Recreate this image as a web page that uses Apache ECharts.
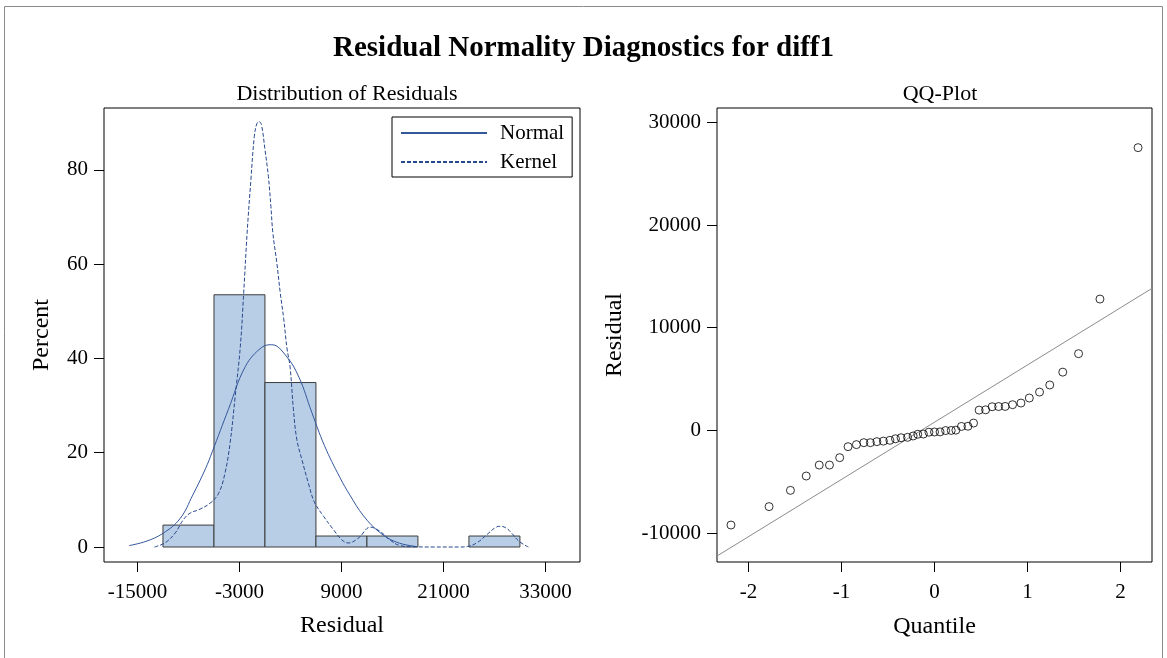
<!DOCTYPE html>
<html>
<head>
<meta charset="utf-8">
<script src="https://cdn.jsdelivr.net/npm/echarts@6/dist/echarts.min.js"></script>
<style>
  html, body { margin: 0; padding: 0; background: #fff; }
  #main { width: 1167px; height: 658px; }
</style>
</head>
<body>
<div id="main"></div>
<script>
// Histogram of residuals: bin starts, common width, percent of observations
const binStarts = [-12000, -6000, 0, 6000, 12000, 18000, 24000];
const binWidth = 6000;
const binPercent = [4.65, 53.49, 34.88, 2.33, 2.33, 0, 2.33];

// Fitted normal density (percent scale), sampled along the residual axis
const normalCurve = [
  [-16000, 0.3], [-14000, 1.2], [-12000, 2.9], [-10000, 6.0], [-8500, 11.0],
  [-7000, 16.6], [-6200, 20.2], [-4300, 29.2], [-2300, 38.3], [-400, 42.3],
  [800, 42.9], [2500, 40.5], [4000, 36.0], [5500, 28.6], [7000, 21.5],
  [8800, 14.8], [10000, 11.0], [11600, 6.6], [13500, 3.1], [15500, 1.0],
  [17800, 0.1]
];

// Kernel density estimate (percent scale)
const kernelCurve = [
  [-13000, 0], [-11750, 0.9], [-10550, 3.0], [-9600, 5.8], [-8800, 7.2],
  [-7800, 7.9], [-6450, 9.3], [-5450, 11.4], [-4700, 15.7], [-4100, 22.1],
  [-3500, 32.0], [-2900, 42.5], [-2500, 54.0], [-2100, 66.6], [-1650, 78.0],
  [-1250, 87.1], [-950, 89.8], [-690, 90.2], [-420, 89.6], [0, 84.3],
  [400, 78.6], [700, 72.2], [930, 66.6], [1400, 60.2], [1800, 53.9],
  [2200, 48.5], [2600, 42.0], [2950, 38.3], [3350, 29.1], [3750, 22.8],
  [4350, 18.5], [5100, 13.6], [5800, 9.6], [6900, 6.5], [8050, 3.7],
  [9050, 1.5], [9800, 0.85], [11000, 1.9], [12400, 4.2], [13550, 3.3],
  [14700, 1.5], [15900, 0.3], [17500, 0.05], [20000, 0], [23000, 0],
  [23800, 0.1], [24900, 0.85], [26100, 2.6], [27100, 4.1], [27700, 4.4],
  [28400, 4.0], [29000, 3.0], [29900, 1.2], [31000, 0]
];

// QQ plot: normal quantiles and sorted residuals
const qqQuantiles = [
  -2.19, -1.78, -1.55, -1.38, -1.24, -1.13, -1.02, -0.93, -0.84, -0.76,
  -0.69, -0.62, -0.55, -0.48, -0.42, -0.36, -0.29, -0.23, -0.18, -0.12,
  -0.06, 0.00, 0.06, 0.12, 0.18, 0.23, 0.29, 0.36, 0.42, 0.48,
  0.55, 0.62, 0.69, 0.76, 0.84, 0.93, 1.02, 1.13, 1.24, 1.38,
  1.55, 1.78, 2.19
];
const qqResiduals = [
  -9225, -7430, -5845, -4450, -3380, -3380, -2660, -1590, -1390, -1200,
  -1200, -1100, -1050, -970, -820, -720, -680, -550, -380, -360,
  -180, -160, -150, -20, -10, 20, 380, 400, 710, 1970,
  2000, 2300, 2320, 2330, 2500, 2660, 3150, 3730, 4420, 5670,
  7470, 12790, 27540
];
// Reference line end points across the quantile axis
const qqLine = [[-2.34, -12245], [2.34, 13833]];

// Tick positions
const residualTicks = [-15000, -3000, 9000, 21000, 33000];
const percentTicks = [0, 20, 40, 60, 80];
const qqResidualTicks = [-10000, 0, 10000, 20000, 30000];
const quantileTicks = [-2, -1, 0, 1, 2];

const FONT = "'Liberation Serif', 'Times New Roman', serif";
const BLUE = '#27498C';

const chart = echarts.init(document.getElementById('main'), null, { renderer: 'canvas' });

function axisCommon(ticks, labelMargin) {
  return {
    axisLine: { show: false, onZero: false },
    axisTick: { show: true, inside: false, length: 10, customValues: ticks,
                lineStyle: { color: '#000', width: 1 } },
    axisLabel: { show: true, customValues: ticks, color: '#000', margin: labelMargin,
                 fontFamily: FONT, fontSize: 21, formatter: v => String(v) },
    splitLine: { show: false },
    nameTextStyle: { color: '#000', fontFamily: FONT, fontSize: 24 }
  };
}

const option = {
  animation: false,
  backgroundColor: '#fff',
  title: [
    { text: 'Residual Normality Diagnostics for diff1', left: 'center', top: 29,
      textStyle: { fontFamily: FONT, fontSize: 29, fontWeight: 'bold', color: '#000' } },
    { text: 'Distribution of Residuals', left: 342, top: 78, textAlign: 'center',
      textStyle: { fontFamily: FONT, fontSize: 22, fontWeight: 'normal', color: '#000' } },
    { text: 'QQ-Plot', left: 935, top: 78, textAlign: 'center',
      textStyle: { fontFamily: FONT, fontSize: 22, fontWeight: 'normal', color: '#000' } }
  ],
  legend: {
    show: true,
    data: ['Normal', 'Kernel'],
    orient: 'vertical',
    left: 392, top: 117,
    padding: [5, 8, 4, 8],
    icon: 'inherit',
    itemWidth: 86, itemHeight: 14, itemGap: 7,
    itemStyle: { opacity: 0 },
    borderColor: '#000', borderWidth: 1,
    backgroundColor: '#fff',
    selectedMode: false,
    textStyle: { fontFamily: FONT, fontSize: 21, color: '#000', lineHeight: 22, padding: [0, 0, 0, 8] }
  },
  graphic: [
    { type: 'rect', silent: true, z: -1,
      shape: { x: 4.5, y: 6.5, width: 1158, height: 660 },
      style: { fill: 'none', stroke: '#8a8a8a', lineWidth: 1 } }
  ],
  grid: [
    { left: 104, top: 108, width: 476, height: 454, show: true,
      borderColor: '#000', borderWidth: 1, backgroundColor: 'transparent' },
    { left: 717, top: 108, width: 435, height: 454, show: true,
      borderColor: '#000', borderWidth: 1, backgroundColor: 'transparent' }
  ],
  xAxis: [
    Object.assign(axisCommon(residualTicks, 20), {
      type: 'value', gridIndex: 0, min: -18940, max: 37070,
      name: 'Residual', nameLocation: 'middle', nameGap: 52
    }),
    Object.assign(axisCommon(quantileTicks, 20), {
      type: 'value', gridIndex: 1, min: -2.34, max: 2.34,
      name: 'Quantile', nameLocation: 'middle', nameGap: 53
    })
  ],
  yAxis: [
    Object.assign(axisCommon(percentTicks, 16), {
      type: 'value', gridIndex: 0, min: -3.18, max: 93.1,
      name: 'Percent', nameLocation: 'middle', nameGap: 50
    }),
    Object.assign(axisCommon(qqResidualTicks, 16), {
      type: 'value', gridIndex: 1, min: -12825, max: 31403,
      name: 'Residual', nameLocation: 'middle', nameGap: 90
    })
  ],
  series: [
    {
      type: 'custom',
      name: 'Histogram',
      xAxisIndex: 0, yAxisIndex: 0,
      data: binStarts.map((s, i) => [s, s + binWidth, binPercent[i]]),
      encode: { x: [0, 1], y: 2 },
      renderItem: function (params, api) {
        const h = api.value(2);
        if (!(h > 0)) return null;
        const p0 = api.coord([api.value(0), h]);
        const p1 = api.coord([api.value(1), 0]);
        return {
          type: 'rect',
          shape: { x: p0[0], y: p0[1], width: p1[0] - p0[0], height: p1[1] - p0[1] },
          style: { fill: '#B8CDE6', stroke: '#3c3c3c', lineWidth: 1 }
        };
      },
      z: 1
    },
    {
      type: 'line', name: 'Normal',
      xAxisIndex: 0, yAxisIndex: 0,
      data: normalCurve, smooth: 0.4, showSymbol: false, symbol: 'none',
      lineStyle: { color: '#34589C', width: 1 }, itemStyle: { color: BLUE },
      z: 3
    },
    {
      type: 'line', name: 'Kernel',
      xAxisIndex: 0, yAxisIndex: 0,
      data: kernelCurve, smooth: 0.4, showSymbol: false, symbol: 'none',
      lineStyle: { color: BLUE, width: 1, type: [4, 2] }, itemStyle: { color: BLUE },
      z: 3
    },
    {
      type: 'line', name: 'QQ reference',
      xAxisIndex: 1, yAxisIndex: 1,
      data: qqLine, showSymbol: false, symbol: 'none',
      lineStyle: { color: '#8c8c8c', width: 1 }, z: 2
    },
    {
      type: 'scatter', name: 'QQ residuals',
      xAxisIndex: 1, yAxisIndex: 1,
      data: qqQuantiles.map((q, i) => [q, qqResiduals[i]]),
      symbol: 'circle', symbolSize: 8,
      itemStyle: { color: 'rgba(0,0,0,0)', borderColor: '#000', borderWidth: 1 },
      z: 4
    }
  ]
};

chart.setOption(option);
</script>
</body>
</html>
